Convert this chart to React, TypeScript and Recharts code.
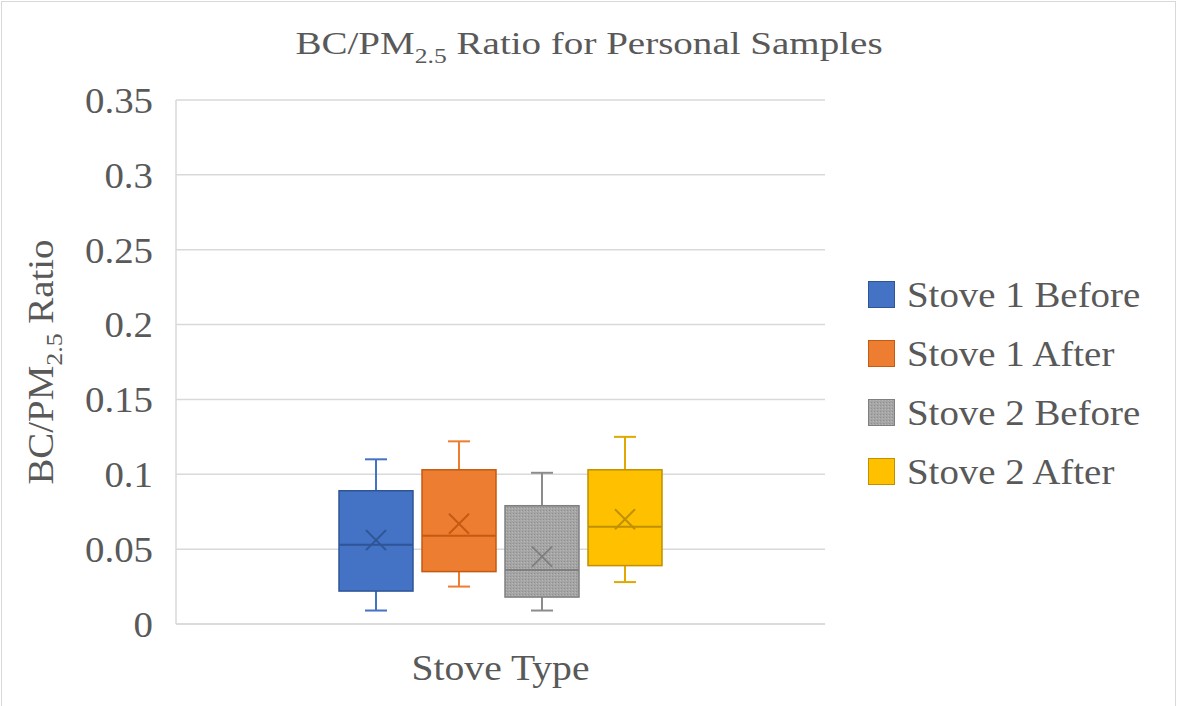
import React from 'react';
import { ComposedChart, Bar, XAxis, YAxis, CartesianGrid, Legend, Label } from 'recharts';

const seriesNames = ['Stove 1 Before', 'Stove 1 After', 'Stove 2 Before', 'Stove 2 After'];
const mins = [0.009, 0.025, 0.009, 0.028];
const q1s = [0.022, 0.035, 0.018, 0.039];
const medians = [0.053, 0.059, 0.036, 0.065];
const q3s = [0.089, 0.103, 0.079, 0.103];
const maxs = [0.11, 0.122, 0.101, 0.125];
const means = [0.056, 0.067, 0.045, 0.07];
const yTicks = [0, 0.05, 0.1, 0.15, 0.2, 0.25, 0.3, 0.35];

const fills = ['#4472C4', '#ED7D31', 'url(#grayNoise)', '#FFC000'];
const strokes = ['#2F5597', '#C55A11', '#7F7F7F', '#BF9000'];
const whiskerColors = ['#4472C4', '#ED7D31', '#8C8C8C', '#E0A800'];

const FONT = 'Liberation Serif, DejaVu Serif, serif';
const TEXT = '#595959';
// the source text is set a little wider than Liberation Serif
const WIDEN = 1.08;

const row: Record<string, number | string> = { name: 'Stove Type' };
seriesNames.forEach((_, i) => {
  row[`min${i}`] = mins[i];
  row[`q1${i}`] = q1s[i];
  row[`med${i}`] = medians[i];
  row[`q3${i}`] = q3s[i];
  row[`max${i}`] = maxs[i];
  row[`mean${i}`] = means[i];
});
const data = [row];

const BoxShape = (props: any) => {
  const { x, y, width, height, si } = props;
  const top = Math.min(y, y + height);
  const h = Math.abs(height);
  const lo = mins[si];
  const hi = maxs[si];
  // the bar spans [min, max] through the y scale; inner values sit on the same linear scale
  const py = (v: number) => top + ((hi - v) / (hi - lo)) * h;
  const cx = x + width / 2;
  const cap = 11;
  const m = py(means[si]);
  const mk = 10;
  return (
    <g>
      <line x1={cx} x2={cx} y1={py(q3s[si])} y2={py(maxs[si])} stroke={whiskerColors[si]} strokeWidth={2} />
      <line x1={cx - cap} x2={cx + cap} y1={py(maxs[si])} y2={py(maxs[si])} stroke={whiskerColors[si]} strokeWidth={2} />
      <line x1={cx} x2={cx} y1={py(q1s[si])} y2={py(mins[si])} stroke={whiskerColors[si]} strokeWidth={2} />
      <line x1={cx - cap} x2={cx + cap} y1={py(mins[si])} y2={py(mins[si])} stroke={whiskerColors[si]} strokeWidth={2} />
      <rect
        x={x}
        y={py(q3s[si])}
        width={width}
        height={py(q1s[si]) - py(q3s[si])}
        fill={fills[si]}
        stroke={strokes[si]}
        strokeWidth={1.5}
      />
      <line x1={x} x2={x + width} y1={py(medians[si])} y2={py(medians[si])} stroke={strokes[si]} strokeWidth={2} />
      <line x1={cx - mk} x2={cx + mk} y1={m - mk} y2={m + mk} stroke={strokes[si]} strokeWidth={2} />
      <line x1={cx - mk} x2={cx + mk} y1={m + mk} y2={m - mk} stroke={strokes[si]} strokeWidth={2} />
    </g>
  );
};

const renderLegend = () => (
  <div style={{ width: 320, paddingLeft: 43, boxSizing: 'border-box', fontFamily: FONT }}>
    {seriesNames.map((n, i) => (
      <div key={n} style={{ height: 59, display: 'flex', alignItems: 'center' }}>
        <svg width={27} height={27} style={{ marginRight: 12, flex: 'none' }}>
          {i === 2 && (
            <defs>
              <pattern id="grayNoiseL" width={3} height={3} patternUnits="userSpaceOnUse">
                <rect width={3} height={3} fill="#A5A5A5" />
                <rect x={0} y={0} width={1} height={1} fill="#8F8F8F" />
                <rect x={2} y={1} width={1} height={1} fill="#B8B8B8" />
              </pattern>
            </defs>
          )}
          <rect x={0.5} y={0.5} width={26} height={26} fill={i === 2 ? 'url(#grayNoiseL)' : fills[i]} stroke={strokes[i]} strokeWidth={1} />
        </svg>
        <span
          style={{
            fontSize: 36,
            color: TEXT,
            whiteSpace: 'nowrap',
            fontFamily: FONT,
            display: 'inline-block',
            transform: `scaleX(${WIDEN})`,
            transformOrigin: 'left center',
          }}
        >
          {n}
        </span>
      </div>
    ))}
  </div>
);

const YTick = (props: any) => {
  const { x, y, payload } = props;
  return (
    <g transform={`translate(${x},${y}) scale(${WIDEN},1)`}>
      <text x={0} y={0} dy="0.355em" textAnchor="end" fontFamily={FONT} fontSize={36} fill={TEXT}>
        {payload.value}
      </text>
    </g>
  );
};

const YTitle = (props: any) => {
  const { viewBox } = props;
  const cy = viewBox.y + viewBox.height / 2;
  return (
    <text
      transform={`translate(53, ${cy}) rotate(-90) scale(${WIDEN},1)`}
      textAnchor="middle"
      fontFamily={FONT}
      fontSize={36}
      fill={TEXT}
    >
      BC/PM
      <tspan fontSize={24} dy={9}>2.5</tspan>
      <tspan dy={-9}> Ratio</tspan>
    </text>
  );
};

const XTitle = (props: any) => {
  const { viewBox } = props;
  const cx = viewBox.x + viewBox.width / 2;
  return (
    <text
      transform={`translate(${cx}, ${viewBox.y + 56}) scale(1.1,1)`}
      textAnchor="middle"
      fontFamily={FONT}
      fontSize={36}
      fill={TEXT}
    >
      Stove Type
    </text>
  );
};

export default function App() {
  return (
    <div style={{ position: 'absolute', left: 0, top: 0, width: 1178, height: 706, overflow: 'hidden', background: '#fff', fontFamily: FONT }}>
      <div style={{ position: 'absolute', left: 1, top: 1, width: 1175, height: 720, border: '1px solid #d9d9d9', boxSizing: 'border-box' }} />
      <svg width={1178} height={80} style={{ position: 'absolute', left: 0, top: 0 }}>
        <text transform="translate(589, 54) scale(1.22,1)" textAnchor="middle" fontFamily={FONT} fontSize={32} fill={TEXT}>
          BC/PM
          <tspan fontSize={21} dy={9}>2.5</tspan>
          <tspan dy={-9}> Ratio for Personal Samples</tspan>
        </text>
      </svg>
      <div style={{ position: 'absolute', left: 0, top: 0 }}>
        <ComposedChart
          width={1178}
          height={706}
          data={data}
          margin={{ top: 100, right: 33, bottom: 0, left: 0 }}
          barSize={74}
          barGap={9}
        >
          <defs>
            <pattern id="grayNoise" width={3} height={3} patternUnits="userSpaceOnUse">
              <rect width={3} height={3} fill="#A5A5A5" />
              <rect x={0} y={0} width={1} height={1} fill="#8F8F8F" />
              <rect x={2} y={1} width={1} height={1} fill="#B8B8B8" />
            </pattern>
          </defs>
          <CartesianGrid vertical={false} stroke="#d9d9d9" strokeWidth={1.5} />
          <XAxis dataKey="name" tick={false} tickLine={false} height={82} axisLine={{ stroke: '#d9d9d9', strokeWidth: 1.5 }}>
            <Label content={<XTitle />} />
          </XAxis>
          <YAxis
            width={176}
            domain={[0, 0.35]}
            ticks={yTicks}
            interval={0}
            tickSize={0}
            tickMargin={23}
            tickLine={false}
            axisLine={{ stroke: '#d9d9d9', strokeWidth: 1.5 }}
            tick={<YTick />}
          >
            <Label content={<YTitle />} />
          </YAxis>
          <Legend layout="vertical" align="right" verticalAlign="top" content={renderLegend} wrapperStyle={{ top: 265 }} />
          {seriesNames.map((n, i) => (
            <Bar
              key={n}
              name={n}
              dataKey={(d: any) => [d[`min${i}`], d[`max${i}`]]}
              fill={fills[i]}
              isAnimationActive={false}
              shape={(p: any) => <BoxShape {...p} si={i} />}
            />
          ))}
        </ComposedChart>
      </div>
    </div>
  );
}
